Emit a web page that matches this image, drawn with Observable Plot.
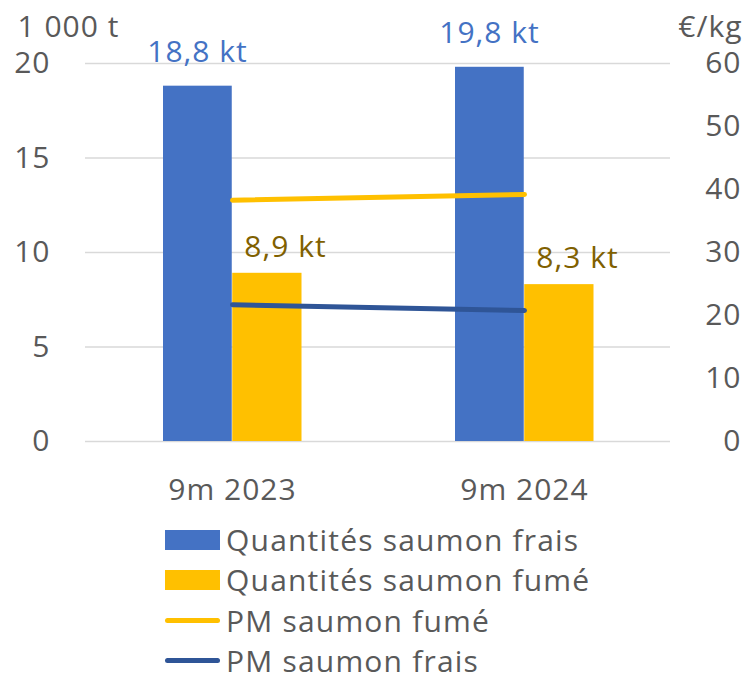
<!DOCTYPE html>
<html>
<head>
<meta charset="utf-8">
<script src="https://cdn.jsdelivr.net/npm/d3@7"></script>
<script src="https://cdn.jsdelivr.net/npm/@observablehq/plot@0.6"></script>
<style>
  body { margin: 0; background: #fff; font-family: "Open Sans", "Noto Sans", sans-serif; }
  #chart { width: 747px; height: 675px; position: relative; overflow: hidden; }
  #chart svg text { letter-spacing: 1px; }
  .legend { position: relative; height: 165px; }
  .item { position: absolute; left: 165px; display: flex; align-items: center; height: 26px;
          font-size: 30px; line-height: 26px; letter-spacing: 1.2px; color: #595959; white-space: nowrap; }
  .sw { width: 55px; margin-right: 6px; flex: none; }
</style>
</head>
<body>
<div id="chart"></div>
<script>
const categories = ["9m 2023", "9m 2024"];
const qtyFrais = [18.8, 19.8];   // 1 000 t
const qtyFume = [8.9, 8.3];      // 1 000 t
const pmFume = [38.3, 39.2];     // €/kg
const pmFrais = [21.7, 20.8];    // €/kg
const leftTicks = [0, 5, 10, 15, 20];
const rightTicks = [0, 10, 20, 30, 40, 50, 60];
const seriesNames = ["Quantités saumon frais", "Quantités saumon fumé", "PM saumon fumé", "PM saumon frais"];

const BLUE = "#4472C4", GOLD = "#FFC000", DARKBLUE = "#2F5597", TXT = "#595959";
const FONT = "'Open Sans', 'Noto Sans', sans-serif";
const FS = 30;
const ratio = 20 / 60; // right axis to left axis

const frais = categories.map((c, i) => ({cat: c, v: qtyFrais[i]}));
const fume = categories.map((c, i) => ({cat: c, v: qtyFume[i]}));
const lineFume = categories.map((c, i) => ({cat: c, v: pmFume[i] * ratio}));
const lineFrais = categories.map((c, i) => ({cat: c, v: pmFrais[i] * ratio}));
const fmt = v => String(v).replace(".", ",") + " kt";

const plot = Plot.plot({
  width: 747,
  height: 510,
  marginLeft: 85,
  marginRight: 77,
  marginTop: 63,
  marginBottom: 69,
  style: {fontFamily: FONT, fontSize: FS + "px", color: TXT, background: "#fff", overflow: "visible"},
  x: {domain: categories, padding: 0, label: null},
  y: {domain: [0, 20], label: null},
  marks: [
    Plot.gridY(leftTicks, {stroke: "#d9d9d9", strokeOpacity: 1, strokeWidth: 1.5}),
    Plot.axisY(leftTicks, {anchor: "left", tickSize: 0, tickPadding: 35, fontSize: FS, fill: TXT, label: null}),
    Plot.axisY(rightTicks.map(t => t * ratio), {anchor: "right", tickSize: 0, tickPadding: 71, textAnchor: "end",
      tickFormat: d => String(Math.round(d / ratio)), fontSize: FS, fill: TXT, label: null}),
    Plot.axisX({tickSize: 0, tickPadding: 37, fontSize: FS, fill: TXT, label: null}),
    Plot.barY(frais, {x: "cat", y: "v", fill: BLUE, insetLeft: 77, insetRight: 146.25}),
    Plot.barY(fume, {x: "cat", y: "v", fill: GOLD, insetLeft: 146.25, insetRight: 76.5}),
    Plot.line(lineFume, {x: "cat", y: "v", stroke: GOLD, strokeWidth: 5, strokeLinecap: "round"}),
    Plot.line(lineFrais, {x: "cat", y: "v", stroke: DARKBLUE, strokeWidth: 5, strokeLinecap: "round"}),
    Plot.text(frais, {x: "cat", y: "v", text: d => fmt(d.v), dx: -35, dy: -34, fill: BLUE, fontSize: FS}),
    Plot.text(fume, {x: "cat", y: "v", text: d => fmt(d.v), dx: 53, dy: -26, fill: "#7F6000", fontSize: FS}),
    Plot.text(["1 000 t"], {frameAnchor: "top-left", lineAnchor: "middle", dx: -68, dy: -36, textAnchor: "start", fill: TXT, fontSize: FS}),
    Plot.text(["€/kg"], {frameAnchor: "top-right", lineAnchor: "middle", dx: 72, dy: -36, textAnchor: "end", fill: TXT, fontSize: FS})
  ]
});

const chart = document.getElementById("chart");
chart.appendChild(plot);

const legend = document.createElement("div");
legend.className = "legend";
const swatches = [
  `<div class="sw" style="height:20px;background:${BLUE}"></div>`,
  `<div class="sw" style="height:20px;background:${GOLD}"></div>`,
  `<div class="sw" style="height:5px;border-radius:3px;background:${GOLD}"></div>`,
  `<div class="sw" style="height:5px;border-radius:3px;background:${DARKBLUE}"></div>`
];
seriesNames.forEach((name, i) => {
  const it = document.createElement("div");
  it.className = "item";
  it.style.top = (17 + i * 40.3) + "px";
  it.innerHTML = swatches[i] + `<span>${name}</span>`;
  legend.appendChild(it);
});
chart.appendChild(legend);
</script>
</body>
</html>
